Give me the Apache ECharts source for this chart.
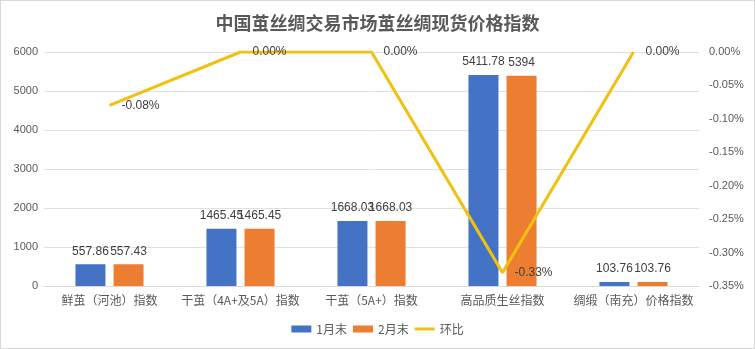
<!DOCTYPE html>
<html><head><meta charset="utf-8">
<script src="https://cdn.jsdelivr.net/npm/echarts@6/dist/echarts.min.js"></script>
<style>html,body{margin:0;padding:0;background:#fff}#c{width:755px;height:349px;box-sizing:border-box;border:1px solid #d9d9d9}</style>
</head><body><div id="c"></div>
<script>
const categories = ['鲜茧（河池）指数','干茧（4A+及5A）指数','干茧（5A+）指数','高品质生丝指数','绸缎（南充）价格指数'];
const jan = [557.86, 1465.45, 1668.03, 5411.78, 103.76];
const feb = [557.43, 1465.45, 1668.03, 5394, 103.76];
const mom = [-0.08, 0.00, 0.00, -0.33, 0.00];
const leftTicks = {min:0, max:6000, interval:1000};
const rightTicks = {min:-0.35, max:0, interval:0.05};

const chart = echarts.init(document.getElementById('c'));
const txt = '#595959';
chart.setOption({
  animation:false,
  title:{text:'中国茧丝绸交易市场茧丝绸现货价格指数', left:'center', top:8,
    textStyle:{fontFamily:'Noto Sans CJK SC', fontSize:18, fontWeight:'bold', color:'#595959'}},
  legend:{bottom:8, itemWidth:20, itemHeight:7, itemGap:6,
    textStyle:{color:txt, fontSize:12, fontFamily:'Noto Sans CJK SC'},
    data:[{name:'1月末', icon:'rect'},{name:'2月末', icon:'rect'},
      {name:'环比', icon:'path://M0,2H20V5H0Z', itemStyle:{color:'#F2C00F'}}]},
  grid:{left:43, right:55, top:51, bottom:62},
  xAxis:{type:'category', data:categories,
    axisLine:{lineStyle:{color:'#d9d9d9'}}, axisTick:{show:false},
    axisLabel:{color:txt, fontSize:12, fontFamily:'Noto Sans CJK SC', margin:8, interval:0}},
  yAxis:[
    {type:'value', min:leftTicks.min, max:leftTicks.max, interval:leftTicks.interval,
     axisLabel:{color:txt, fontSize:11, margin:6, formatter:v=>String(v)},
     splitLine:{lineStyle:{color:'#e0e0e0'}}, axisLine:{show:false}, axisTick:{show:false}},
    {type:'value', min:rightTicks.min, max:rightTicks.max, interval:rightTicks.interval,
     axisLabel:{color:txt, fontSize:11, margin:10, formatter:v=>v.toFixed(2)+'%'},
     splitLine:{show:false}, axisLine:{show:false}, axisTick:{show:false}}
  ],
  series:[
    {name:'1月末', type:'bar', data:jan, barWidth:30, barGap:'27%', itemStyle:{color:'#4472C4'},
     label:{show:true, position:'top', color:'#404040', fontSize:12, distance:7}},
    {name:'2月末', type:'bar', data:feb, barWidth:30, itemStyle:{color:'#ED7D31'},
     label:{show:true, position:'top', color:'#404040', fontSize:12, distance:7}},
    {name:'环比', type:'line', yAxisIndex:1, data:mom, symbol:'circle', symbolSize:0.01, showSymbol:true, z:5,
     lineStyle:{color:'#F2C00F', width:3}, itemStyle:{color:'#F2C00F'},
     label:{show:true, position:'right', distance:12, color:'#404040', fontSize:12,
       formatter:p=>p.value.toFixed(2)+'%'}}
  ]
});
</script></body></html>
